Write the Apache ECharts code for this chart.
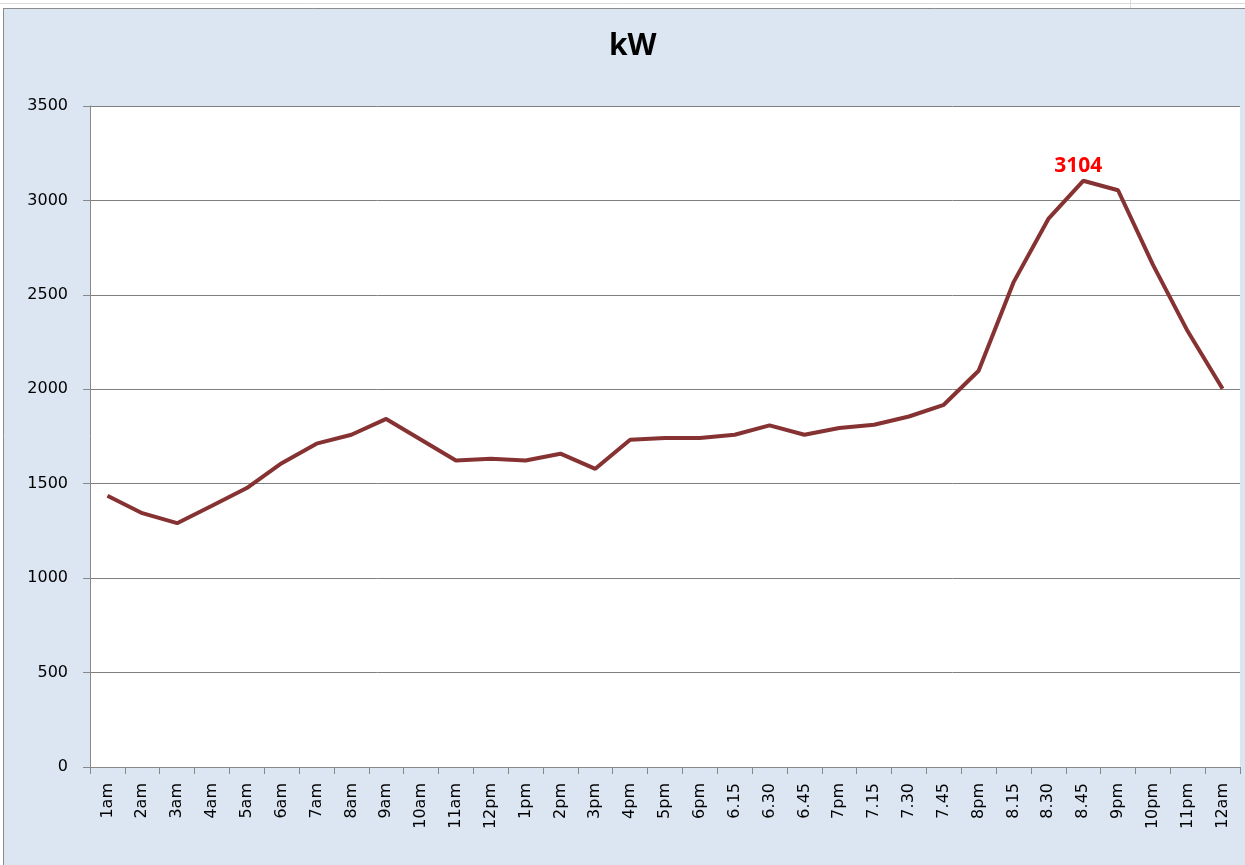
<!DOCTYPE html>
<html>
<head>
<meta charset="utf-8">
<script src="https://cdn.jsdelivr.net/npm/echarts@6/dist/echarts.min.js"></script>
<style>
html,body{margin:0;padding:0;background:#fff;}
#c{position:absolute;left:0;top:0;width:1245px;height:865px;}
</style>
</head>
<body>
<div id="c"></div>
<script>
const categories = ['1am','2am','3am','4am','5am','6am','7am','8am','9am','10am','11am','12pm','1pm','2pm','3pm','4pm','5pm','6pm','6.15','6.30','6.45','7pm','7.15','7.30','7.45','8pm','8.15','8.30','8.45','9pm','10pm','11pm','12am'];
const kW = [1436,1344,1291,1383,1477,1609,1712,1759,1843,1733,1623,1632,1623,1659,1579,1733,1742,1742,1759,1809,1759,1795,1812,1856,1918,2098,2566,2902,3104,3054,2660,2307,2003];
const yTicks = [0,500,1000,1500,2000,2500,3000,3500];
const peakLabel = '3104';

const peakIdx = kW.indexOf(Math.max(...kW));

const chart = echarts.init(document.getElementById('c'));
chart.setOption({
  backgroundColor: '#dce6f2',
  animation: false,
  title: {
    text: 'kW', left: 604, top: 26,
    textStyle: {fontFamily:'Open Sans', fontWeight:'bold', fontSize:30, color:'#000'}
  },
  graphic: [
    {type:'rect', shape:{x:0,y:0,width:1245,height:8}, style:{fill:'#fff'}, z:-1, silent:true},
    {type:'rect', shape:{x:0,y:0,width:3,height:865}, style:{fill:'#fff'}, z:-1, silent:true},
    {type:'line', shape:{x1:3,y1:8.5,x2:1245,y2:8.5}, style:{stroke:'#8c8c8c', lineWidth:1}, silent:true},
    {type:'line', shape:{x1:3.5,y1:8,x2:3.5,y2:865}, style:{stroke:'#8c8c8c', lineWidth:1}, silent:true},
    {type:'line', shape:{x1:0,y1:3.5,x2:1245,y2:3.5}, style:{stroke:'#dcdcdc', lineWidth:1}, silent:true},
    {type:'line', shape:{x1:1130.5,y1:0,x2:1130.5,y2:8}, style:{stroke:'#dcdcdc', lineWidth:1}, silent:true}
  ],
  grid: {left:90, right:5, top:106, bottom:98, containLabel:false, show:true, backgroundColor:'#fff', borderWidth:0},
  xAxis: {
    type:'category', data: categories, boundaryGap:true,
    axisLine:{lineStyle:{color:'#888', width:1}},
    axisTick:{show:true, alignWithLabel:false, length:7, lineStyle:{color:'#888'}},
    axisLabel:{rotate:90, margin:16, fontSize:16, color:'#000', fontFamily:'DejaVu Sans', interval:0}
  },
  yAxis: {
    type:'value', min:0, max:3500, interval:500,
    axisLine:{show:true, lineStyle:{color:'#888', width:1}},
    axisTick:{show:true, length:7, lineStyle:{color:'#888'}},
    axisLabel:{fontSize:16, color:'#000', fontFamily:'DejaVu Sans', margin:22,
      formatter: v => yTicks.includes(v) ? String(v) : ''},
    splitLine:{show:true, lineStyle:{color:'#7f7f7f', width:1}}
  },
  series: [{
    type:'line', data: kW, symbol:'none',
    lineStyle:{color:'#863232', width:4},
    itemStyle:{color:'#863232'},
    markPoint: {
      symbol:'circle', symbolSize:2,
      itemStyle:{color:'rgba(0,0,0,0)'},
      data:[{coord:[peakIdx, kW[peakIdx]], value: kW[peakIdx]}],
      label:{show:true, position:'top', distance:3, offset:[-5,0], formatter: peakLabel, color:'#ff0000', fontWeight:'bold', fontSize:21, fontFamily:'Open Sans'}
    }
  }]
});
</script>
</body>
</html>
